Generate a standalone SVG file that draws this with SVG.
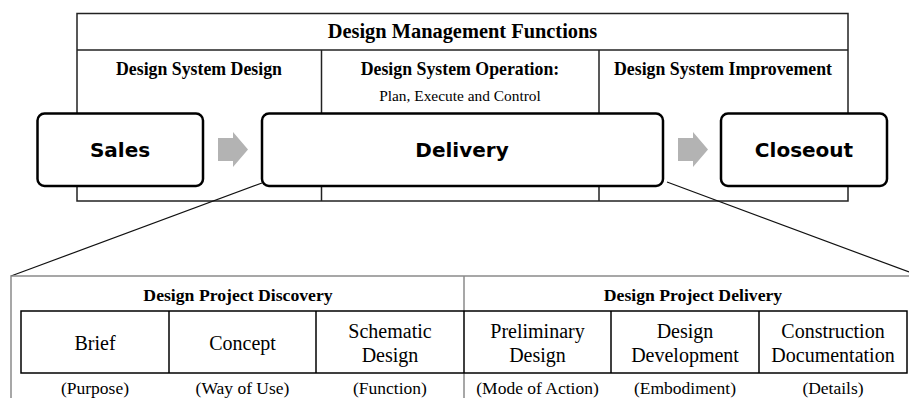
<svg xmlns="http://www.w3.org/2000/svg" width="909" height="398" viewBox="0 0 909 398">
<style>
.serif{font-family:"Liberation Serif","Times New Roman",serif;fill:#000;text-anchor:middle}
.b{font-weight:bold}
.sans{font-family:"DejaVu Sans",Verdana,sans-serif;font-weight:bold;font-size:20px;fill:#000;text-anchor:middle}
.frame{fill:none;stroke:#222;stroke-width:1.5}
.gframe{fill:none;stroke:#8a8a8a;stroke-width:1.5}
.box{fill:#fff;stroke:#000;stroke-width:2.5}
.cell{fill:#fff;stroke:#000;stroke-width:1.5}
.arrow{fill:#b3b3b3}
.conn{stroke:#111;stroke-width:1.2;fill:none}
</style>
<rect width="909" height="398" fill="#fff"/>
<g id="functions">
<rect class="frame" x="77" y="13.5" width="771" height="187.5"/>
<line class="frame" x1="77" y1="50" x2="848" y2="50"/>
<line class="frame" x1="321.5" y1="50" x2="321.5" y2="201"/>
<line class="frame" x1="599" y1="50" x2="599" y2="201"/>
<text class="serif b" x="462.5" y="38" font-size="20.4">Design Management Functions</text>
<text class="serif b" x="199" y="75" font-size="17.8">Design System Design</text>
<text class="serif b" x="460" y="75" font-size="17.8">Design System Operation:</text>
<text class="serif" x="460" y="101" font-size="15.4">Plan, Execute and Control</text>
<text class="serif b" x="723" y="75" font-size="17.8">Design System Improvement</text>
</g>
<g id="connectors">
<path class="arrow" d="M218,138 H233 V132 L248,149.5 L233,167 V161 H218 Z"/>
<path class="arrow" d="M678,138 H693 V132 L708,149.5 L693,167 V161 H678 Z"/>
<line class="conn" x1="262" y1="183" x2="11" y2="276"/>
<line class="conn" x1="667" y1="182" x2="909" y2="272"/>
</g>
<g id="sales">
<rect class="box" x="37.5" y="113.5" width="165.5" height="72.5" rx="7"/>
<text class="sans" x="120" y="157">Sales</text>
</g>
<g id="delivery">
<rect class="box" x="262" y="113.5" width="401" height="72.5" rx="7"/>
<text class="sans" x="462" y="157">Delivery</text>
</g>
<g id="closeout">
<rect class="box" x="721" y="113.5" width="166" height="72.5" rx="7"/>
<text class="sans" x="804" y="157">Closeout</text>
</g>
<g id="phases">
<polyline class="gframe" points="11,398 11,276 909,276"/>
<line class="gframe" x1="464" y1="276" x2="464" y2="398"/>
<text class="serif b" x="238" y="301" font-size="17.7">Design Project Discovery</text>
<text class="serif b" x="693" y="301" font-size="17.7">Design Project Delivery</text>
</g>
<g id="stages">
<rect class="cell" x="21" y="311" width="886" height="62"/>
<line class="cell" x1="169" y1="311" x2="169" y2="373"/>
<line class="cell" x1="316" y1="311" x2="316" y2="373"/>
<line class="cell" x1="464" y1="311" x2="464" y2="373"/>
<line class="cell" x1="611" y1="311" x2="611" y2="373"/>
<line class="cell" x1="759" y1="311" x2="759" y2="373"/>
<g font-size="20">
<text class="serif" x="95" y="350">Brief</text>
<text class="serif" x="242.5" y="350">Concept</text>
<text class="serif" x="390" y="338">Schematic</text>
<text class="serif" x="390" y="362">Design</text>
<text class="serif" x="537.5" y="338">Preliminary</text>
<text class="serif" x="537.5" y="362">Design</text>
<text class="serif" x="685" y="338">Design</text>
<text class="serif" x="685" y="362">Development</text>
<text class="serif" x="833" y="338">Construction</text>
<text class="serif" x="833" y="362">Documentation</text>
</g>
<g font-size="17.5">
<text class="serif" x="95" y="393.5">(Purpose)</text>
<text class="serif" x="242.5" y="393.5">(Way of Use)</text>
<text class="serif" x="390" y="393.5">(Function)</text>
<text class="serif" x="537.5" y="393.5">(Mode of Action)</text>
<text class="serif" x="685" y="393.5">(Embodiment)</text>
<text class="serif" x="833" y="393.5">(Details)</text>
</g>
</g>
</svg>
